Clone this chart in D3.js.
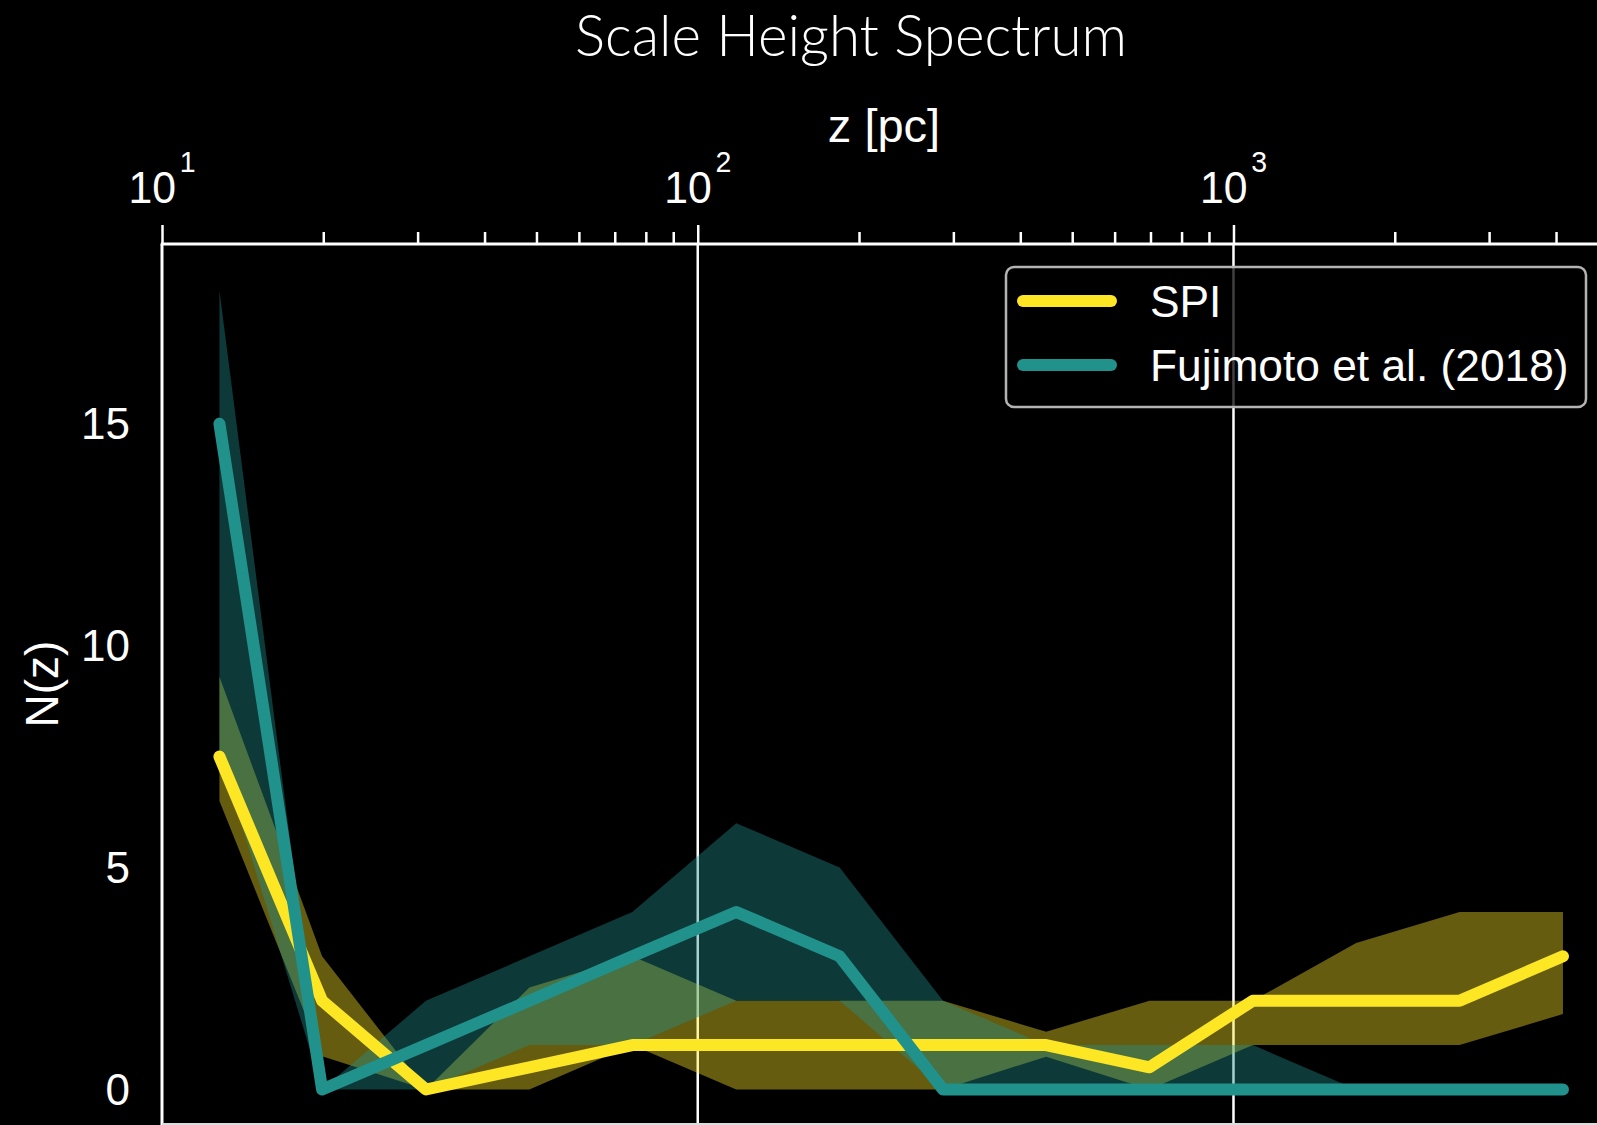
<!DOCTYPE html>
<html>
<head>
<meta charset="utf-8">
<script src="https://cdn.jsdelivr.net/npm/d3@7/dist/d3.min.js"></script>
<style>
  html, body { margin: 0; padding: 0; background: #000; }
  svg { display: block; }
</style>
</head>
<body>
<svg id="chart" width="1597" height="1125"></svg>
<script>
// ---------------- data ----------------
const zBins = [12.8, 19.9, 31.1, 48.5, 75.5, 118, 184, 287, 447, 697, 1087, 1694, 2642, 4121];
const spiMed = [7.5, 2, 0, 0.5, 1, 1, 1, 1, 1, 0.5, 2, 2, 2, 3];
const spiLow = [6.5, 0.75, 0, 0, 1, 0, 0, 0, 0.74, 0, 1, 1, 1, 1.7];
const spiHigh = [9.3, 3, 0, 2.3, 3, 2, 2, 2, 1.3, 2, 2, 3.3, 4, 4];
const fujMed = [15, 0, 1, 2, 3, 4, 3, 0, 0, 0, 0, 0, 0, 0];
const fujLow = [7.6, 0, 0, 1, 1, 2, 2, 0, 0, 0, 0, 0, 0, 0];
const fujHigh = [18, 0, 2, 3, 4, 6, 5, 2, 1, 1, 1, 0, 0, 0];
const majorTicks = [10, 100, 1000];
const majorExp = ["1", "2", "3"];
const minorTicks = [20, 30, 40, 50, 60, 70, 80, 90, 200, 300, 400, 500, 600, 700, 800, 900, 2000, 3000, 4000];
const yTicks = [0, 5, 10, 15];
const seriesNames = ["SPI", "Fujimoto et al. (2018)"];
const seriesColors = ["#FDE725", "#21918C"];
const titleText = "Scale Height Spectrum";
const xLabel = "z [pc]";
const yLabel = "N(z)";

// ---------------- layout ----------------
const svg = d3.select("#chart");
const W = 1597, H = 1125;
const plot = { left: 162, right: 1597, top: 244, bottom: 1125 };

svg.append("rect").attr("width", W).attr("height", H).attr("fill", "#000");

const x = d3.scaleLog().domain([10, 4770]).range([plot.left, plot.right]);
const y = d3.scaleLinear().domain([-0.8, 19.05]).range([plot.bottom, plot.top]);

// grid lines (vertical at major ticks)
svg.append("g").selectAll("line").data(majorTicks.slice(1)).join("line")
  .attr("x1", d => x(d)).attr("x2", d => x(d))
  .attr("y1", plot.top).attr("y2", plot.bottom)
  .attr("stroke", "#fff").attr("stroke-width", 2.5);

const rows = zBins.map((z, i) => ({
  z, spi: spiMed[i], spiLo: spiLow[i], spiHi: spiHigh[i],
  fuj: fujMed[i], fujLo: fujLow[i], fujHi: fujHigh[i]
}));

const areaSpi = d3.area().x(d => x(d.z)).y0(d => y(d.spiLo)).y1(d => y(d.spiHi));
const areaFuj = d3.area().x(d => x(d.z)).y0(d => y(d.fujLo)).y1(d => y(d.fujHi));
const lineSpi = d3.line().x(d => x(d.z)).y(d => y(d.spi));
const lineFuj = d3.line().x(d => x(d.z)).y(d => y(d.fuj));

svg.append("path").datum(rows).attr("d", areaSpi)
  .attr("fill", seriesColors[0]).attr("fill-opacity", 0.4);
svg.append("path").datum(rows).attr("d", areaFuj)
  .attr("fill", seriesColors[1]).attr("fill-opacity", 0.4);

svg.append("path").datum(rows).attr("d", lineSpi)
  .attr("fill", "none").attr("stroke", seriesColors[0]).attr("stroke-width", 12)
  .attr("stroke-linecap", "round").attr("stroke-linejoin", "round");
svg.append("path").datum(rows).attr("d", lineFuj)
  .attr("fill", "none").attr("stroke", seriesColors[1]).attr("stroke-width", 12)
  .attr("stroke-linecap", "round").attr("stroke-linejoin", "round");

// top axis (major + minor ticks)
const axMajor = d3.axisTop(x).tickValues(majorTicks).tickFormat("").tickSize(19).tickSizeOuter(0);
const axMinor = d3.axisTop(x).tickValues(minorTicks).tickFormat("").tickSize(12).tickSizeOuter(0);
const gMaj = svg.append("g").attr("transform", `translate(0,${plot.top})`).call(axMajor);
const gMin = svg.append("g").attr("transform", `translate(0,${plot.top})`).call(axMinor);
[gMaj, gMin].forEach(g => {
  g.select(".domain").remove();
  g.selectAll(".tick line").attr("stroke", "#fff").attr("stroke-width", 2.5);
});

// spines
svg.append("line").attr("x1", plot.left - 1.25).attr("x2", plot.right)
  .attr("y1", plot.top).attr("y2", plot.top).attr("stroke", "#fff").attr("stroke-width", 3);
svg.append("line").attr("x1", plot.left).attr("x2", plot.left)
  .attr("y1", plot.top).attr("y2", plot.bottom).attr("stroke", "#fff").attr("stroke-width", 3);
svg.append("line").attr("x1", plot.left).attr("x2", plot.right)
  .attr("y1", H - 1).attr("y2", H - 1).attr("stroke", "#ddd").attr("stroke-width", 2);

// x tick labels 10^n
const xl = svg.append("g").selectAll("text").data(majorTicks).join("text")
  .attr("transform", d => `translate(${x(d)},203) scale(0.95,1)`)
  .attr("text-anchor", "middle")
  .attr("fill", "#fff")
  .style("font-family", "'Liberation Sans', Arial, sans-serif")
  .style("font-size", "45px");
xl.append("tspan").text("10");
xl.append("tspan").attr("dx", 4).attr("dy", -31).style("font-size", "30px")
  .text((d, i) => majorExp[i]);

// y tick labels
svg.append("g").selectAll("text").data(yTicks).join("text")
  .attr("x", 130).attr("y", d => y(d) + 15.7)
  .attr("text-anchor", "end").attr("fill", "#fff")
  .style("font-family", "'Liberation Sans', Arial, sans-serif")
  .style("font-size", "44px")
  .text(d => d);

// axis labels
svg.append("text").attr("x", 884).attr("y", 142).attr("text-anchor", "middle")
  .attr("fill", "#fff").style("font-family", "'Liberation Sans', Arial, sans-serif")
  .style("font-size", "47px").text(xLabel);
svg.append("text").attr("transform", "translate(58,684) rotate(-90)")
  .attr("text-anchor", "middle").attr("fill", "#fff")
  .style("font-family", "'Liberation Sans', Arial, sans-serif")
  .style("font-size", "46px").text(yLabel);

// title
const t = svg.append("text").attr("x", 851).attr("y", 56).attr("text-anchor", "middle")
  .attr("fill", "#fff").style("font-family", "Lato, 'Open Sans', sans-serif")
  .style("font-weight", 300).style("font-size", "50px").text(titleText);
const tw = t.node().getComputedTextLength();
t.style("font-size", (50 * 552 / tw) + "px");

// legend
const lg = svg.append("g");
lg.append("rect").attr("x", 1006).attr("y", 267).attr("width", 580).attr("height", 140)
  .attr("rx", 8).attr("ry", 8).attr("fill", "#000").attr("fill-opacity", 0.75)
  .attr("stroke", "#b3b3b3").attr("stroke-width", 2.5);
const legY = [301, 365];
seriesNames.forEach((name, i) => {
  lg.append("line").attr("x1", 1023).attr("x2", 1111)
    .attr("y1", legY[i]).attr("y2", legY[i])
    .attr("stroke", seriesColors[i]).attr("stroke-width", 12).attr("stroke-linecap", "round");
  lg.append("text").attr("x", 1150).attr("y", legY[i] + 15.5)
    .attr("fill", "#fff").style("font-family", "'Liberation Sans', Arial, sans-serif")
    .style("font-size", "44.3px").text(name);
});
</script>
</body>
</html>
